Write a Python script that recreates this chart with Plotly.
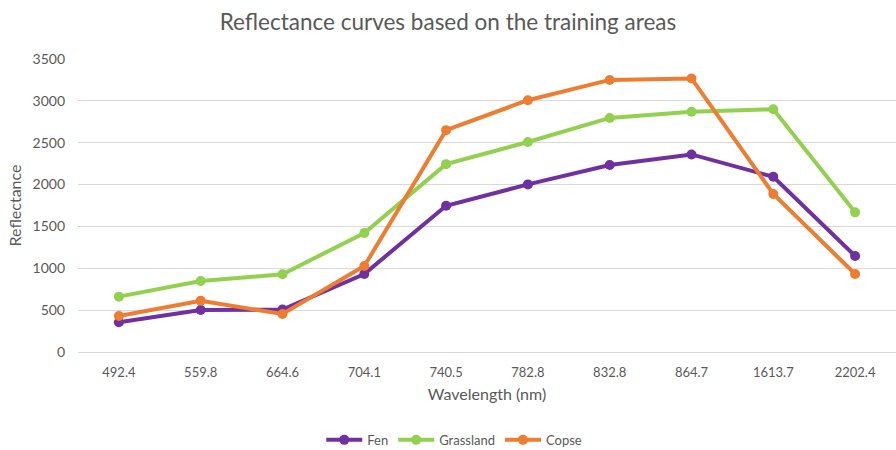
import plotly.graph_objects as go

# Sentinel-2 band centres (nm), plotted as categories
wavelengths = ["492.4", "559.8", "664.6", "704.1", "740.5", "782.8", "832.8", "864.7", "1613.7", "2202.4"]

fen = [355, 502, 508, 932, 1746, 2002, 2234, 2360, 2093, 1147]
grassland = [661, 848, 928, 1422, 2244, 2508, 2796, 2870, 2900, 1668]
copse = [430, 613, 454, 1027, 2650, 3008, 3250, 3268, 1888, 932]

series = [
    ("Fen", fen, "#7030A0"),
    ("Grassland", grassland, "#92D050"),
    ("Copse", copse, "#ED7D31"),
]

text_grey = "#595959"
font_family = "Lato, 'Open Sans', sans-serif"

fig = go.Figure()
for name, values, color in series:
    fig.add_trace(go.Scatter(
        x=wavelengths, y=values, name=name, mode="lines+markers",
        line=dict(color=color, width=4),
        marker=dict(color=color, size=10),
    ))

fig.update_layout(
    width=896, height=450,
    margin=dict(l=78, r=0, t=59, b=98, autoexpand=False),
    paper_bgcolor="white", plot_bgcolor="white",
    font=dict(family=font_family, color=text_grey, size=13),
    title=dict(text="Reflectance curves based on the training areas",
               x=0.5, xanchor="center", y=0.95, yanchor="middle",
               font=dict(size=22.5, color=text_grey, family=font_family)),
    showlegend=True,
    legend=dict(orientation="h", x=0.46, xanchor="center", y=-0.3, yanchor="middle",
                font=dict(size=13, color=text_grey), itemwidth=36),
)

# One category band per wavelength, with no extra padding at the ends
fig.update_xaxes(
    type="category", range=[-0.5, len(wavelengths) - 0.5],
    showgrid=False, showline=True, linecolor="#d9d9d9", linewidth=1,
    ticks="", ticklabelstandoff=8, automargin=False,
    tickfont=dict(size=13),
    title=dict(text="Wavelength (nm)", font=dict(size=16, color=text_grey), standoff=10),
)
fig.update_yaxes(
    range=[0, 3500], dtick=500, showgrid=True, gridcolor="#d9d9d9", gridwidth=1,
    zeroline=False, showline=False, ticks="", ticklabelstandoff=12, automargin=False,
    tickfont=dict(size=14),
    title=dict(text="Reflectance", font=dict(size=16, color=text_grey), standoff=6),
)

fig.write_html("out.html")
